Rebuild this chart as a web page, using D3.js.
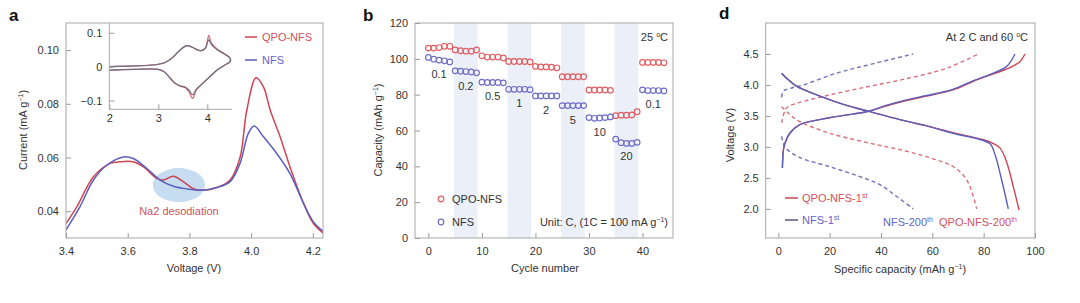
<!DOCTYPE html>
<html><head><meta charset="utf-8">
<script src="https://cdn.jsdelivr.net/npm/d3@7"></script>
<style>body{margin:0;background:#fff;} text{font-family:"Liberation Sans",Arial,sans-serif;}</style>
</head><body><script>
// ---------- DATA ----------
// Panel a: main dQ/dV-like curves [voltage, current]
const aQPO = [[3.4,0.0354],[3.435,0.0416],[3.489,0.0528],[3.543,0.0578],[3.575,0.0584],[3.618,0.0584],[3.651,0.0565],[3.694,0.0522],[3.716,0.0516],[3.748,0.053],[3.78,0.051],[3.813,0.0484],[3.845,0.0478],[3.889,0.0488],[3.932,0.0516],[3.964,0.060],[3.986,0.0776],[4.016,0.0897],[4.04,0.0863],[4.062,0.0776],[4.094,0.0677],[4.126,0.0565],[4.17,0.0429],[4.202,0.0354],[4.235,0.0317]];
const aNFS = [[3.4,0.033],[3.445,0.0416],[3.489,0.0516],[3.532,0.0571],[3.586,0.0602],[3.618,0.0596],[3.662,0.0559],[3.705,0.0516],[3.748,0.0493],[3.791,0.0483],[3.845,0.0478],[3.889,0.0488],[3.932,0.051],[3.964,0.0578],[3.991,0.069],[4.01,0.0717],[4.04,0.0677],[4.083,0.0615],[4.126,0.054],[4.17,0.0429],[4.202,0.036],[4.235,0.0323]];
const aXTicks = [3.4,3.6,3.8,4.0,4.2];
const aYTicks = [0.04,0.06,0.08,0.10];
// Panel a inset CV loops [voltage, current]
const insetQPO = [[2.0,0.0],[2.5,0.002],[3.0,0.007],[3.15,0.013],[3.3,0.028],[3.45,0.05],[3.58,0.062],[3.68,0.058],[3.86,0.047],[3.96,0.055],[4.03,0.092],[4.08,0.07],[4.2,0.052],[4.35,0.038],[4.46,0.026],[4.47,0.016],[4.35,0.004],[4.2,-0.01],[4.05,-0.03],[3.9,-0.05],[3.78,-0.068],[3.7,-0.094],[3.63,-0.075],[3.55,-0.062],[3.45,-0.058],[3.35,-0.05],[3.25,-0.035],[3.12,-0.015],[3.0,-0.008],[2.5,-0.008],[2.0,-0.01]];
const insetNFS = [[2.0,0.0],[2.5,0.002],[3.0,0.007],[3.15,0.013],[3.3,0.028],[3.45,0.05],[3.58,0.062],[3.68,0.058],[3.86,0.047],[3.96,0.054],[4.03,0.079],[4.08,0.066],[4.2,0.05],[4.35,0.037],[4.46,0.026],[4.47,0.016],[4.35,0.004],[4.2,-0.01],[4.05,-0.03],[3.9,-0.05],[3.78,-0.066],[3.7,-0.083],[3.63,-0.07],[3.55,-0.06],[3.45,-0.057],[3.35,-0.05],[3.25,-0.035],[3.12,-0.015],[3.0,-0.008],[2.5,-0.008],[2.0,-0.01]];
const insetXTicks = [2,3,4];
const insetYTicks = [-0.1,0,0.1];

// Panel b: rate capability
const cycles = d3.range(0,45);
const bQPO = [106,106,106.3,107,107, 105,104.5,104.3,104.3,105, 101.7,101,101,101,100.5, 98.5,98.5,98.5,98.5,98.3, 95.8,95.5,95.5,95.3,95, 90,90,90,90,90, 82.6,82.6,82.6,82.6,82.4, 68.3,68.5,68.5,68.7,70.5, 98,98,98,98,97.8];
const bNFS = [100.8,99.8,99.3,98.9,98.3, 93.3,93.1,92.9,92.7,92.2, 87,86.8,86.8,86.8,86.6, 83,83,83,83,82.8, 79.3,79.3,79.3,79.3,79.3, 73.9,73.9,73.9,73.9,73.9, 67.2,66.8,67,67.2,67.6, 55.2,53.2,52.8,52.8,53.4, 82.7,82.3,82.3,82.3,82.1];
const rateLabels = ["0.1","0.2","0.5","1","2","5","10","20","0.1"];
const bandStarts = [5,15,25,35];
const bXTicks = [0,10,20,30,40];
const bYTicks = [0,20,40,60,80,100,120];

// Panel d: charge/discharge profiles [capacity, voltage]
const dQPO1c = [[1.6,2.66],[2.0,2.95],[2.6,3.06],[4.5,3.22],[8.4,3.36],[20,3.47],[29,3.53],[35.7,3.58],[42,3.66],[50,3.75],[57.8,3.82],[68,3.92],[76,4.06],[83.8,4.18],[90.3,4.28],[94.2,4.38],[96.1,4.5]];
const dNFS1c = [[1.6,2.66],[2.0,2.95],[2.6,3.06],[4.5,3.22],[8.4,3.36],[20,3.47],[29,3.53],[35.7,3.58],[42,3.67],[50,3.76],[57.8,3.83],[68,3.93],[76,4.07],[83.8,4.19],[89,4.3],[92.2,4.5]];
const dQPO1d = [[1.3,4.19],[3.2,4.11],[7.1,3.98],[16.2,3.82],[26.6,3.67],[35.7,3.57],[47.4,3.44],[57.8,3.34],[68,3.23],[78.6,3.13],[82.5,3.08],[86.4,2.98],[89,2.75],[91.6,2.35],[93.8,1.98]];
const dNFS1d = [[1.3,4.19],[3.2,4.11],[7.1,3.98],[16.2,3.82],[26.6,3.67],[35.7,3.57],[47.4,3.44],[57.8,3.34],[68,3.22],[78.6,3.12],[82.5,3.05],[84.4,2.88],[87,2.47],[89.6,2.0]];
const dNFS200c = [[1.3,3.8],[2.0,3.9],[5,3.95],[9.7,4.0],[22.7,4.19],[35.7,4.33],[52.6,4.5]];
const dNFS200d = [[1.3,3.17],[2.6,3.0],[7.8,2.84],[20.1,2.68],[31.8,2.52],[39.6,2.39],[46.1,2.2],[52.6,2.0]];
const dQPO200c = [[1.3,3.39],[3.3,3.63],[7.8,3.71],[20.1,3.84],[35.7,3.98],[48.7,4.09],[65.6,4.27],[77.9,4.5]];
const dQPO200d = [[1.3,3.65],[4.6,3.52],[7.8,3.42],[20.1,3.22],[35.7,3.06],[50,2.93],[61.7,2.79],[68.2,2.68],[73.4,2.47],[77.3,2.0]];
const dXTicks = [0,20,40,60,80,100];
const dYTicks = [2.0,2.5,3.0,3.5,4.0,4.5];

// ---------- STYLE ----------
const RED = "#cf4552", BLUE = "#5b5fbd";
const RED_T = "#d2505c", BLUE_T = "#5f63c8";
const TXT = "#333", FRAME = "#a8a8a8";

const svg = d3.select("body").append("svg").attr("width",1080).attr("height",303);

function richText(g, x, y, parts, opts={}) {
  const t = g.append("text").attr("x",x).attr("y",y)
    .attr("font-size", opts.size||11).attr("fill", opts.fill||TXT)
    .attr("text-anchor", opts.anchor||"start");
  if (opts.transform) t.attr("transform", opts.transform);
  let shifted = false;
  parts.forEach(p => {
    const s = t.append("tspan").text(p.t);
    if (p.sup) { s.attr("font-size", 7).attr("dy", -4); shifted = true; }
    else if (shifted) { s.attr("dy", 4); shifted = false; }
  });
  return t;
}

function frameAxes(x, y, xt, yt, xf, yf) {
  const [x0,x1] = x.range(), [y0,y1] = y.range();
  const g = svg.append("g");
  const ax = g.append("g").attr("transform",`translate(0,${y0})`)
    .call(d3.axisBottom(x).tickValues(xt).tickFormat(xf).tickSizeInner(-5).tickSizeOuter(0).tickPadding(9));
  const ay = g.append("g").attr("transform",`translate(${x0},0)`)
    .call(d3.axisLeft(y).tickValues(yt).tickFormat(yf).tickSizeInner(-5).tickSizeOuter(0).tickPadding(7));
  [ax,ay].forEach(a => {
    a.select(".domain").remove();
    a.selectAll("line").attr("stroke","#999");
    a.selectAll("text").attr("fill",TXT).attr("font-size",11).attr("font-family","Liberation Sans, Arial, sans-serif");
  });
  g.append("rect").attr("x",x0).attr("y",y1).attr("width",x1-x0).attr("height",y0-y1)
    .attr("fill","none").attr("stroke",FRAME).attr("stroke-width",1);
  return g;
}
function panelLabel(x,y,t){ svg.append("text").attr("x",x).attr("y",y).attr("font-size",17).attr("font-weight","bold").attr("fill","#111").text(t); }

// ---------- PANEL a ----------
const xA = d3.scaleLinear([3.4,4.233],[66,323]);
const yA = d3.scaleLinear([0.0300,0.1101],[238,23]);
svg.append("defs").append("clipPath").attr("id","clipA").append("rect").attr("x",66).attr("y",23).attr("width",257).attr("height",215);
svg.append("ellipse").attr("cx",xA(3.766)).attr("cy",yA(0.0497)).attr("rx",26).attr("ry",17).attr("fill","#bcd6ee").attr("opacity",0.85);
const lineA = d3.line().x(d=>xA(d[0])).y(d=>yA(d[1])).curve(d3.curveCatmullRom);
const gA = svg.append("g").attr("clip-path","url(#clipA)");
gA.append("path").datum(aQPO).attr("d",lineA).attr("fill","none").attr("stroke",RED).attr("stroke-width",1.5);
gA.append("path").datum(aNFS).attr("d",lineA).attr("fill","none").attr("stroke",BLUE).attr("stroke-width",1.5);
frameAxes(xA,yA,aXTicks,aYTicks,d3.format(".1f"),d3.format(".2f"));
svg.append("text").attr("x",xA(3.766)).attr("y",215).attr("text-anchor","middle").attr("font-size",11).attr("fill",RED_T).text("Na2 desodiation");
[[RED,RED_T,"QPO-NFS",37],[BLUE,BLUE_T,"NFS",60]].forEach(([c,tc,t,y])=>{
  svg.append("line").attr("x1",245).attr("x2",257).attr("y1",y).attr("y2",y).attr("stroke",c).attr("stroke-width",1.5);
  svg.append("text").attr("x",262).attr("y",y+4).attr("font-size",11).attr("fill",tc).text(t);
});
richText(svg,0,0,[{t:"Current (mA g"},{t:"−1",sup:true},{t:")"}],{anchor:"middle",transform:"translate(27,130) rotate(-90)"});
svg.append("text").attr("x",194).attr("y",272).attr("text-anchor","middle").attr("font-size",11).attr("fill",TXT).text("Voltage (V)");
panelLabel(9,21,"a");

// inset
const xI = d3.scaleLinear([2,4.5],[109.3,231.8]);
const yI = d3.scaleLinear([-0.126,0.123],[109.3,25]);
const lineI = d3.line().x(d=>xI(d[0])).y(d=>yI(d[1])).curve(d3.curveCatmullRom);
svg.append("path").datum(insetQPO).attr("d",lineI).attr("fill","none").attr("stroke","#d9737c").attr("stroke-width",1.3);
svg.append("path").datum(insetNFS).attr("d",lineI).attr("fill","none").attr("stroke","#6b6d80").attr("stroke-width",1.2);
const iax = svg.append("g").attr("transform","translate(0,109.3)")
  .call(d3.axisBottom(xI).tickValues(insetXTicks).tickFormat(d3.format("d")).tickSizeInner(-5).tickSizeOuter(0).tickPadding(5));
const iay = svg.append("g").attr("transform","translate(109.3,0)")
  .call(d3.axisLeft(yI).tickValues(insetYTicks).tickFormat(d=>d===0?"0":(d<0?"−0.1":"0.1")).tickSizeInner(-5).tickSizeOuter(0).tickPadding(7));
[iax,iay].forEach(a=>{
  a.selectAll("line").attr("stroke","#999");
  a.select(".domain").attr("stroke",FRAME);
  a.selectAll("text").attr("fill",TXT).attr("font-size",11).attr("font-family","Liberation Sans, Arial, sans-serif");
});
iax.select(".domain").attr("d",`M109.3,0H231.8`);
iay.select(".domain").attr("d",`M0,23V109.3`);

// ---------- PANEL b ----------
const xB = d3.scaleLinear([-2.5,45.7],[415,673]);
const yB = d3.scaleLinear([0,120],[238,23]);
bandStarts.forEach(s=>{
  svg.append("rect").attr("x",xB(s-0.2)).attr("y",23).attr("width",xB(s+4.2)-xB(s-0.2)).attr("height",215).attr("fill","#eaeff8");
});
frameAxes(xB,yB,bXTicks,bYTicks,d3.format("d"),d3.format("d"));
svg.append("g").selectAll("circle").data(cycles).join("circle")
  .attr("cx",d=>xB(d)).attr("cy",d=>yB(bQPO[d])).attr("r",2.8)
  .attr("fill","none").attr("stroke","#df5f63").attr("stroke-width",1.2);
svg.append("g").selectAll("circle").data(cycles).join("circle")
  .attr("cx",d=>xB(d)).attr("cy",d=>yB(bNFS[d])).attr("r",2.8)
  .attr("fill","none").attr("stroke","#6e6fc6").attr("stroke-width",1.2);
rateLabels.forEach((t,i)=>{
  const grp = bNFS.slice(i*5,i*5+5);
  svg.append("text").attr("x",xB(i*5+2)).attr("y",yB(d3.mean(grp))+18)
    .attr("text-anchor","middle").attr("font-size",11).attr("fill",TXT).text(t);
});
richText(svg,668,41,[{t:"25 "},{t:"o",sup:true},{t:"C"}],{anchor:"end"});
[["#df5f63","QPO-NFS",199],["#6e6fc6","NFS",222]].forEach(([c,t,y])=>{
  svg.append("circle").attr("cx",441).attr("cy",y).attr("r",2.8).attr("fill","none").attr("stroke",c).attr("stroke-width",1.2);
  svg.append("text").attr("x",452).attr("y",y+4).attr("font-size",11).attr("fill",TXT).text(t);
});
richText(svg,668,226,[{t:"Unit: C, (1C = 100 mA g"},{t:"−1",sup:true},{t:")"}],{anchor:"end"});
richText(svg,0,0,[{t:"Capacity (mAh g"},{t:"−1",sup:true},{t:")"}],{anchor:"middle",transform:"translate(382,130) rotate(-90)"});
svg.append("text").attr("x",545).attr("y",272).attr("text-anchor","middle").attr("font-size",11).attr("fill",TXT).text("Cycle number");
panelLabel(363,21,"b");

// ---------- PANEL d ----------
const xD = d3.scaleLinear([-4.9,100],[765.7,1035]);
const yD = d3.scaleLinear([1.53,5.0],[238,23]);
frameAxes(xD,yD,dXTicks,dYTicks,d3.format("d"),d3.format(".1f"));
const lineD = d3.line().x(d=>xD(d[0])).y(d=>yD(d[1])).curve(d3.curveCatmullRom);
const dCurves = [
  [dQPO200c,"#d9707a",true],[dQPO200d,"#d9707a",true],
  [dNFS200c,"#6f72b8",true],[dNFS200d,"#6f72b8",true],
  [dQPO1c,RED,false],[dQPO1d,RED,false],
  [dNFS1c,BLUE,false],[dNFS1d,BLUE,false]
];
dCurves.forEach(([data,c,dash])=>{
  const p = svg.append("path").datum(data).attr("d",lineD).attr("fill","none").attr("stroke",c).attr("stroke-width",1.4);
  if (dash) p.attr("stroke-dasharray","4,3");
});
richText(svg,1028,41,[{t:"At 2 C and 60 "},{t:"o",sup:true},{t:"C"}],{anchor:"end"});
[[RED,RED_T,"QPO-NFS-1",198],["#555a7a",BLUE_T,"NFS-1",220]].forEach(([c,tc,t,y])=>{
  svg.append("line").attr("x1",785).attr("x2",798).attr("y1",y).attr("y2",y).attr("stroke",c).attr("stroke-width",1.5);
  richText(svg,802,y+4,[{t:t},{t:"st",sup:true}],{fill:tc});
});
richText(svg,883,226,[{t:"NFS-200"},{t:"th",sup:true}],{fill:BLUE_T});
richText(svg,939,226,[{t:"QPO-NFS-200"},{t:"th",sup:true}],{fill:RED_T});
svg.append("text").attr("transform","translate(734,135) rotate(-90)").attr("text-anchor","middle").attr("font-size",11).attr("fill",TXT).text("Voltage (V)");
richText(svg,900,273,[{t:"Specific capacity (mAh g"},{t:"−1",sup:true},{t:")"}],{anchor:"middle"});
panelLabel(719,19,"d");
</script></body></html>
